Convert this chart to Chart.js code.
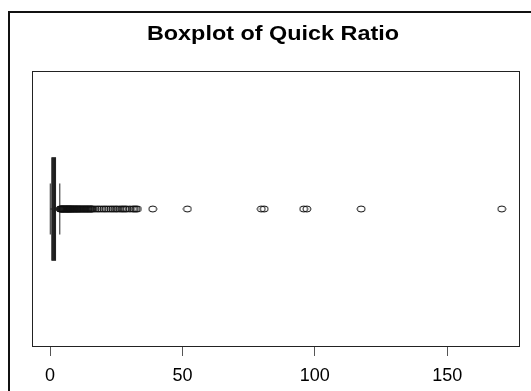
<!DOCTYPE html>
<html>
<head>
<meta charset="utf-8">
<script src="https://cdn.jsdelivr.net/npm/chart.js@4.4.0/dist/chart.umd.min.js"></script>
<style>
  html, body { margin: 0; padding: 0; background: #fff; }
  #wrap { width: 531px; height: 391px; }
</style>
</head>
<body>
<div id="wrap"><canvas id="chart" width="531" height="391"></canvas></div>
<script>
// five-number summary of Quick Ratio (lower whisker, Q1, median, Q3, upper whisker)
const boxStats = [0.1, 0.8, 1.2, 2.0, 3.7];

// outliers (dense near the box, sparse further out)
const outliers = [
    3.8, 4.0, 4.2, 4.4, 4.6, 4.8, 5.0, 5.2, 5.4, 5.6, 5.8, 6.0, 6.2, 6.4, 6.6,
    6.8, 7.0, 7.2, 7.4, 7.6, 7.8, 8.0, 8.2, 8.5, 8.7, 9.0, 9.2, 9.5, 9.7, 10.0,
    10.2, 10.5, 10.8, 11.0, 11.3, 11.6, 11.9, 12.2, 12.5, 12.8, 13.1, 13.4,
    13.7, 14.0, 14.3, 14.6, 14.9, 15.2, 15.5, 15.8, 16.1,
    16.9, 17.8, 18.6, 19.5, 20.4, 21.2, 22.1, 23.0, 23.8,
    24.6, 25.3, 26.2, 27.0, 27.6, 28.3, 29.0, 30.1, 31.2, 31.8, 32.4, 33.0,
    38.8, 51.9, 79.8, 80.9, 95.8, 97.0, 117.5, 170.6
];

const tickValues = [0, 50, 100, 150];
const xRange = [-6.8, 177.5];
const titleText = 'Boxplot of Quick Ratio';

// R-like open circle, slightly wider than tall
function makeMarker() {
    const c = document.createElement('canvas');
    c.width = 10;
    c.height = 8;
    const g = c.getContext('2d');
    g.strokeStyle = '#111';
    g.lineWidth = 1;
    g.beginPath();
    g.ellipse(5, 4, 4, 3, 0, 0, Math.PI * 2);
    g.stroke();
    return c;
}

const framePlugin = {
    id: 'frame',
    beforeDraw(chart) {
        const ctx = chart.ctx;
        ctx.save();
        ctx.fillStyle = '#fff';
        ctx.fillRect(0, 0, chart.width, chart.height);
        // outer frame
        ctx.strokeStyle = '#111';
        ctx.lineWidth = 2;
        ctx.beginPath();
        ctx.moveTo(9, chart.height);
        ctx.lineTo(9, 12);
        ctx.lineTo(chart.width, 12);
        ctx.stroke();
        // title (the reference is stretched sideways a little)
        ctx.fillStyle = '#000';
        ctx.font = 'bold 19.5px "Liberation Sans", Arial, sans-serif';
        ctx.textAlign = 'center';
        ctx.textBaseline = 'middle';
        ctx.translate(273, 35);
        ctx.scale(1.2, 1);
        ctx.fillText(titleText, 0, 0);
        ctx.restore();
    },
    beforeDatasetsDraw(chart) {
        const ctx = chart.ctx;
        const a = chart.chartArea;
        const xs = chart.scales.x;
        const ys = chart.scales.y;
        const [lo, q1, med, q3, hi] = boxStats.map(v => xs.getPixelForValue(v));
        const yc = ys.getPixelForValue(1);
        const half = ys.getPixelForValue(1) - ys.getPixelForValue(1.37);
        ctx.save();
        // plot box
        ctx.strokeStyle = '#222';
        ctx.lineWidth = 1;
        ctx.strokeRect(Math.round(a.left) + 0.5, Math.round(a.top) + 0.5,
            Math.round(a.right - a.left) - 1, Math.round(a.bottom - a.top) - 1);
        // whiskers
        ctx.setLineDash([4, 3]);
        ctx.beginPath();
        ctx.moveTo(lo, yc); ctx.lineTo(q1, yc);
        ctx.moveTo(q3, yc); ctx.lineTo(hi, yc);
        ctx.stroke();
        ctx.setLineDash([]);
        // staples
        ctx.beginPath();
        ctx.moveTo(lo, yc - half / 2); ctx.lineTo(lo, yc + half / 2);
        ctx.moveTo(hi, yc - half / 2); ctx.lineTo(hi, yc + half / 2);
        ctx.stroke();
        // box
        ctx.fillStyle = '#000';
        ctx.fillRect(q1, yc - half, q3 - q1, half * 2);
        ctx.lineWidth = 1.5;
        ctx.strokeRect(q1, yc - half, q3 - q1, half * 2);
        // median
        ctx.lineWidth = 3;
        ctx.beginPath();
        ctx.moveTo(med, yc - half); ctx.lineTo(med, yc + half);
        ctx.stroke();
        ctx.restore();
    }
};

new Chart(document.getElementById('chart'), {
    type: 'scatter',
    data: {
        datasets: [{
            label: 'Quick Ratio',
            data: outliers.map(v => ({ x: v, y: 1 })),
            pointStyle: makeMarker(),
            pointRadius: 4
        }]
    },
    options: {
        responsive: false,
        animation: false,
        events: [],
        layout: { padding: { left: 32, top: 71, right: 11, bottom: 0 } },
        plugins: {
            legend: { display: false },
            tooltip: { enabled: false }
        },
        scales: {
            x: {
                type: 'linear',
                min: xRange[0],
                max: xRange[1],
                afterBuildTicks: scale => {
                    scale.ticks = tickValues.map(v => ({ value: v }));
                },
                afterFit: scale => { scale.height = 44; },
                border: { display: false },
                grid: {
                    drawOnChartArea: false,
                    drawTicks: true,
                    tickLength: 9,
                    color: '#555'
                },
                ticks: {
                    color: '#000',
                    padding: 9,
                    maxRotation: 0,
                    font: { family: '"Liberation Sans", Arial, sans-serif', size: 18 }
                }
            },
            y: {
                display: false,
                min: 0,
                max: 2
            }
        }
    },
    plugins: [framePlugin]
});
</script>
</body>
</html>
